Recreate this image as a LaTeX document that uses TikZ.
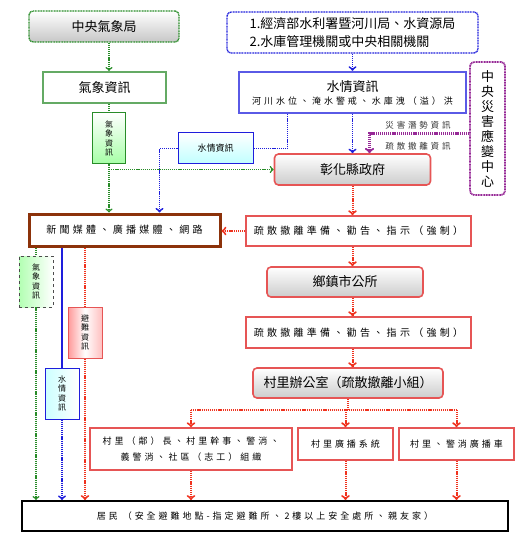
\documentclass[tikz,border=0pt]{standalone}
\usepackage{fontspec}
\setmainfont{Noto Sans CJK TC}
\newfontfamily\spc[LetterSpace=33]{Noto Sans CJK TC}
\usepackage{tikz}
\usetikzlibrary{positioning}
\definecolor{gline}{RGB}{40,140,40}
\definecolor{gbox}{RGB}{100,170,100}
\definecolor{bline}{RGB}{30,30,220}
\definecolor{bbox}{RGB}{90,90,230}
\definecolor{pline}{RGB}{150,40,150}
\definecolor{rline}{RGB}{240,50,30}
\definecolor{rbox}{RGB}{230,85,85}
\definecolor{brown}{RGB}{140,50,10}
\tikzset{
	gdot/.style={draw=gline,line width=1.5pt,dash pattern=on 1.2pt off 0.9pt},
	bdot/.style={draw=bline,line width=1.8pt,dash pattern=on 1.2pt off 0.9pt},
	rdot/.style={draw=rline,line width=2pt,dash pattern=on 1.2pt off 0.9pt},
	pdot/.style={draw=pline,line width=2.2pt,dash pattern=on 1.2pt off 0.9pt},
	redbox/.style={draw=rbox,line width=1.6pt,fill=white,rectangle,inner sep=0pt,align=center,font=\spc\fontsize{10}{16}\selectfont},
	redhead/.style={redbox,rounded corners=4pt,top color=white,bottom color=black!20,font=\fontsize{13}{15}\selectfont},
	tagbox/.style={rectangle,inner sep=0pt,align=center,minimum width=34pt,minimum height=51pt,font=\fontsize{8}{9.5}\selectfont},
}
\begin{document}
\begin{tikzpicture}[x=1pt,y=-1pt]
		\useasboundingbox (0,0) rectangle (527,545);
		\node [draw=gline,line width=1.4pt,dash pattern=on 1pt off 0.6pt,rounded corners=4pt,top color=white,bottom color=black!22,minimum width=150pt,minimum height=31pt,font=\fontsize{13}{15}\selectfont] (cwb) at (104,26.5) {中央氣象局};
		\node [draw=bline,line width=1.4pt,dash pattern=on 1pt off 0.6pt,rounded corners=4pt,fill=white,minimum width=251pt,minimum height=41pt,align=left,font=\fontsize{13}{18}\selectfont] (wra) at (352.5,32.5) {1.經濟部水利署暨河川局、水資源局\\2.水庫管理機關或中央相關機關};
		\node [draw=gbox,line width=2pt,fill=white,minimum width=123pt,minimum height=31pt,font=\fontsize{13}{15}\selectfont] (wx) at (104.5,87.5) {氣象資訊};
		\node [draw=bbox,line width=2.4pt,fill=white,minimum width=227pt,minimum height=41pt,inner sep=0pt,align=center,font=\fontsize{13}{15}\selectfont] (wl) at (352.5,92.5) {水情資訊\\[-2pt]{\spc\fontsize{9}{11}\selectfont 河川水位、淹水警戒、水庫洩（溢）洪}};
		\node [draw=pline,line width=1.8pt,dash pattern=on 1pt off 0.6pt,rounded corners=4pt,fill=white,minimum width=35pt,minimum height=133pt,inner sep=0pt,align=center,font=\fontsize{13}{15}\selectfont] (cdc) at (487.5,128.5) {中\\央\\災\\害\\應\\變\\中\\心};
		\node [redhead,minimum width=156pt,minimum height=31pt] (gov) at (352.5,169.5) {彰化縣政府};
		\node [draw=bline,line width=1pt,top color=white,bottom color=cyan!25,minimum width=75pt,minimum height=31pt,font=\fontsize{9}{11}\selectfont] (wlbox) at (215.5,148.5) {水情資訊};
		\node [tagbox,draw=gline,line width=1pt,top color=white,bottom color=green!35,minimum width=33pt] (wxbox) at (109,138.5) {氣\\象\\資\\訊};
		\node [draw=brown,line width=3pt,fill=white,minimum width=191pt,minimum height=32pt,font=\spc\fontsize{10}{12}\selectfont] (media) at (124.5,230) {新聞媒體、廣播媒體、網路};
		\node [redbox,minimum width=225pt,minimum height=30pt] (evac) at (358.5,231) {疏散撤離準備、勸告、指示（強制）};
		\node [redhead,minimum width=156pt,minimum height=30pt] (town) at (345,282) {鄉鎮市公所};
		\node [redbox,minimum width=225pt,minimum height=31pt] (evacb) at (358.5,332.5) {疏散撤離準備、勸告、指示（強制）};
		\node [redhead,minimum width=190pt,minimum height=30pt] (village) at (348,383) {村里辦公室（疏散撤離小組）};
		\node [redbox,minimum width=202pt,minimum height=42pt,font=\spc\fontsize{9}{16}\selectfont] (lead) at (191,449) {村里（鄰）長、村里幹事、警消、\\義警消、社區（志工）組織};
		\node [redbox,minimum width=95pt,minimum height=32pt,font=\spc\fontsize{9}{11}\selectfont] (radio) at (345.5,444) {村里廣播系統};
		\node [redbox,minimum width=115pt,minimum height=32pt,font=\spc\fontsize{9}{11}\selectfont] (car) at (456.5,444) {村里、警消廣播車};
		\node [draw=black,line width=2pt,fill=white,minimum width=486pt,minimum height=30pt,font=\spc\fontsize{9}{11}\selectfont] (res) at (265,516) {居民\ （安全避難地點-指定避難所、2樓以上安全處所、親友家）};
		\node [tagbox,draw=black!70,line width=0.6pt,dashed,left color=green!30,right color=white] (wxl) at (36,281.5) {氣\\象\\資\\訊};
		\node [tagbox,draw=rbox,line width=1pt,left color=red!40,right color=red!25,middle color=white] (evl) at (85,332.5) {避\\難\\資\\訊};
		\node [tagbox,draw=bline,line width=1pt,left color=cyan!20,right color=white] (wll) at (62,393.5) {水\\情\\資\\訊};

		\draw [gdot,->] (cwb.south -| wxbox) -- (wx.north -| wxbox);
		\draw [gdot] (wx.south -| wxbox) -- (wxbox);
		\draw [gdot,->] (wxbox) -- (wxbox |- media.north);
		\draw [gdot,->] (wxbox |- gov.west) -- (gov.west);

		\draw [bdot,->] (wra) -- (wl);
		\draw [bdot,->] (wl) -- (gov);
		\draw [bdot] ([xshift=-65pt]wl.south) |- (wlbox);
		\draw [bdot,->] (wlbox) -| ([xshift=35pt]media.north);

		\draw [pdot,->] ([yshift=-5pt]cdc.west) -| ([xshift=17pt]gov.north);
		\node [font=\spc\fontsize{8.5}{10}\selectfont,text=black!80] (hazard) at (418,125) {災害潛勢資訊};
		\node [font=\spc\fontsize{8.5}{10}\selectfont,text=black!80] (evinfo) at (418,146) {疏散撤離資訊};

		\draw [rdot,->] (gov.south) -- (gov.south |- evac.north);
		\draw [rdot,->] (gov.south |- evac.south) -- (gov.south |- town.north);
		\draw [rdot,->] (gov.south |- town.south) -- (gov.south |- evacb.north);
		\draw [rdot,->] (gov.south |- evacb.south) -- (gov.south |- village.north);
		\draw [rdot,->] (evac.west) -- (evac.west -| media.east);

		\coordinate [below=11pt of village.south] (split);
		\draw [rdot] (village.south) -- (split);
		\draw [rdot] (split -| lead) -- (split -| car);
		\draw [rdot,->] (split -| lead) -- (lead);
		\draw [rdot,->] (split -| radio) -- (radio);
		\draw [rdot,->] (split -| car) -- (car);
		\draw [rdot,->] (lead) -- (lead |- res.north);
		\draw [rdot,->] (radio) -- (radio |- res.north);
		\draw [rdot,->] (car) -- (car |- res.north);

		\draw [gdot] (media.south -| wxl) -- (wxl);
		\draw [gdot,->] (wxl) -- (wxl |- res.north);
		\draw [draw=bline,line width=1.4pt] (media.south -| wll) -- (wll);
		\draw [bdot,->] (wll) -- (wll |- res.north);
		\draw [rdot] (media.south -| evl) -- (evl);
		\draw [rdot,->] (evl) -- (evl |- res.north);
	\end{tikzpicture}
\end{document}
